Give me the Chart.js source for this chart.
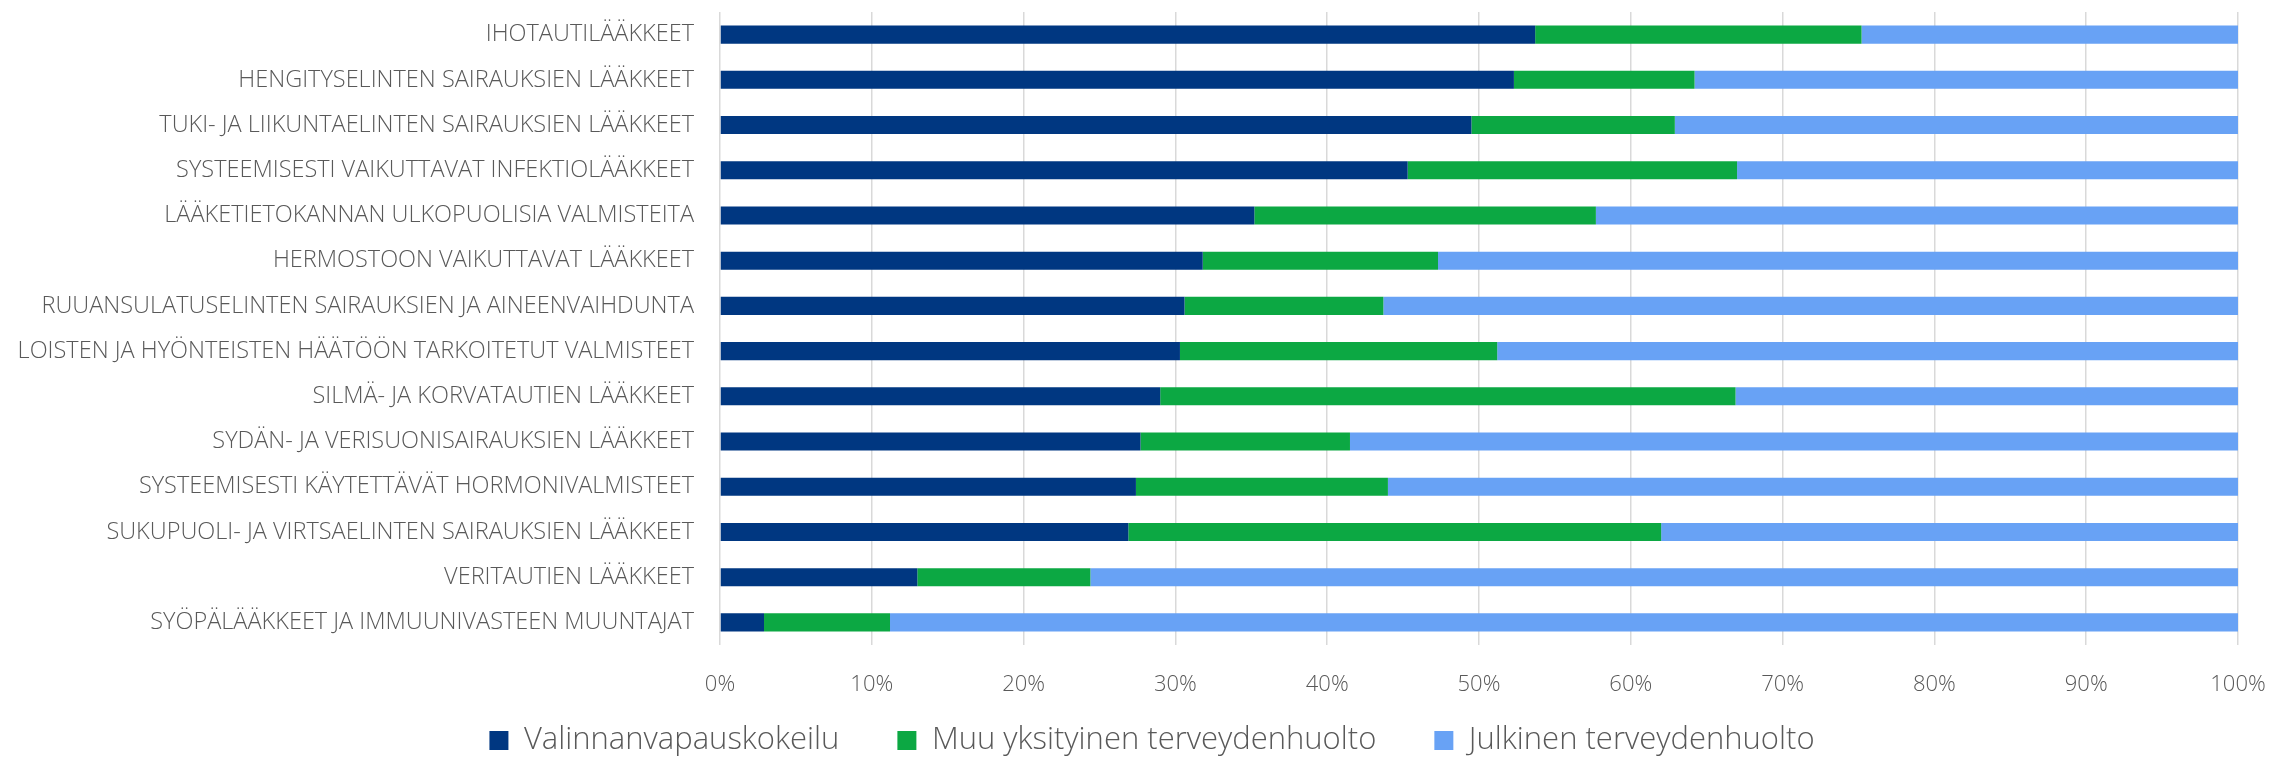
<!DOCTYPE html>
<html lang="fi">
<head>
<meta charset="utf-8">
<title>Lääkeryhmät hoitopaikan mukaan</title>
<script src="https://cdn.jsdelivr.net/npm/chart.js@4/dist/chart.umd.min.js"></script>
<style>
  html, body { margin: 0; padding: 0; background: #ffffff; }
  #wrap { width: 2269px; height: 758px; position: relative; }
</style>
</head>
<body>
<div id="wrap"><canvas id="chart" width="2269" height="758"></canvas></div>
<script>
// Lääkeryhmät (ATC-pääryhmät)
const categories = [
  'IHOTAUTILÄÄKKEET',
  'HENGITYSELINTEN SAIRAUKSIEN LÄÄKKEET',
  'TUKI- JA LIIKUNTAELINTEN SAIRAUKSIEN LÄÄKKEET',
  'SYSTEEMISESTI VAIKUTTAVAT INFEKTIOLÄÄKKEET',
  'LÄÄKETIETOKANNAN ULKOPUOLISIA VALMISTEITA',
  'HERMOSTOON VAIKUTTAVAT LÄÄKKEET',
  'RUUANSULATUSELINTEN SAIRAUKSIEN JA AINEENVAIHDUNTA',
  'LOISTEN JA HYÖNTEISTEN HÄÄTÖÖN TARKOITETUT VALMISTEET',
  'SILMÄ- JA KORVATAUTIEN LÄÄKKEET',
  'SYDÄN- JA VERISUONISAIRAUKSIEN LÄÄKKEET',
  'SYSTEEMISESTI KÄYTETTÄVÄT HORMONIVALMISTEET',
  'SUKUPUOLI- JA VIRTSAELINTEN SAIRAUKSIEN LÄÄKKEET',
  'VERITAUTIEN LÄÄKKEET',
  'SYÖPÄLÄÄKKEET JA IMMUUNIVASTEEN MUUNTAJAT'
];

// Osuudet (%) hoitopaikoittain
const valinnanvapauskokeilu = [53.7, 52.3, 49.5, 45.3, 35.2, 31.8, 30.6, 30.3, 29.0, 27.7, 27.4, 26.9, 13.0, 2.9];
const muuYksityinen        = [21.5, 11.9, 13.4, 21.7, 22.5, 15.5, 13.1, 20.9, 37.9, 13.8, 16.6, 35.1, 11.4, 8.3];
const julkinen             = [24.8, 35.8, 37.1, 33.0, 42.3, 52.7, 56.3, 48.8, 33.1, 58.5, 56.0, 38.0, 75.6, 88.8];

const seriesNames = ['Valinnanvapauskokeilu', 'Muu yksityinen terveydenhuolto', 'Julkinen terveydenhuolto'];
const seriesColors = ['#003781', '#0ca843', '#68a2f5'];

const xTicks = [0, 10, 20, 30, 40, 50, 60, 70, 80, 90, 100];

const FONT = "'Open Sans', 'Segoe UI', sans-serif";
const TEXT = '#595959';

const seriesData = [valinnanvapauskokeilu, muuYksityinen, julkinen];

// Moves the legend row below the axis labels and centres it under the whole figure
const legendPlacement = {
  id: 'legendPlacement',
  afterLayout(chart) {
    const lg = chart.legend;
    if (!lg) return;
    const dx = 33, dy = -38;
    lg.left += dx; lg.right += dx;
    lg.top += dy; lg.bottom += dy;
  }
};

new Chart(document.getElementById('chart'), {
  type: 'bar',
  data: {
    labels: categories,
    datasets: seriesNames.map((name, i) => ({
      label: name,
      data: seriesData[i],
      backgroundColor: seriesColors[i],
      borderWidth: 0,
      barPercentage: 0.4,
      categoryPercentage: 1.0
    }))
  },
  options: {
    indexAxis: 'y',
    responsive: false,
    animation: false,
    devicePixelRatio: 1,
    layout: { padding: { left: 0, right: 31, top: 12, bottom: -46 } },
    scales: {
      x: {
        stacked: true,
        min: 0,
        max: 100,
        afterBuildTicks: (scale) => { scale.ticks = xTicks.map(v => ({ value: v })); },
        afterFit: (scale) => {
          scale.height = 60;
          scale.paddingLeft = 0;
          scale.paddingRight = 0;
        },
        grid: { color: '#d9d9d9', lineWidth: 1.5, drawTicks: false },
        border: { display: false },
        ticks: {
          padding: 27,
          color: TEXT,
          font: { family: FONT, size: 22, weight: '300' },
          maxRotation: 0,
          callback: (v) => v + '%'
        }
      },
      y: {
        stacked: true,
        afterFit: (scale) => {
          scale.width = 720;
          scale.paddingTop = 0;
          scale.paddingBottom = 0;
        },
        grid: { display: false, drawTicks: false },
        border: { display: false },
        ticks: {
          padding: 26,
          color: TEXT,
          autoSkip: false,
          font: { family: FONT, size: 23.5, weight: '300' }
        }
      }
    },
    plugins: {
      legend: {
        position: 'bottom',
        labels: {
          boxWidth: 19,
          boxHeight: 19,
          padding: 58,
          color: TEXT,
          font: { family: FONT, size: 31, weight: '300' }
        }
      },
      tooltip: { enabled: false }
    }
  },
  plugins: [legendPlacement]
});
</script>
</body>
</html>
